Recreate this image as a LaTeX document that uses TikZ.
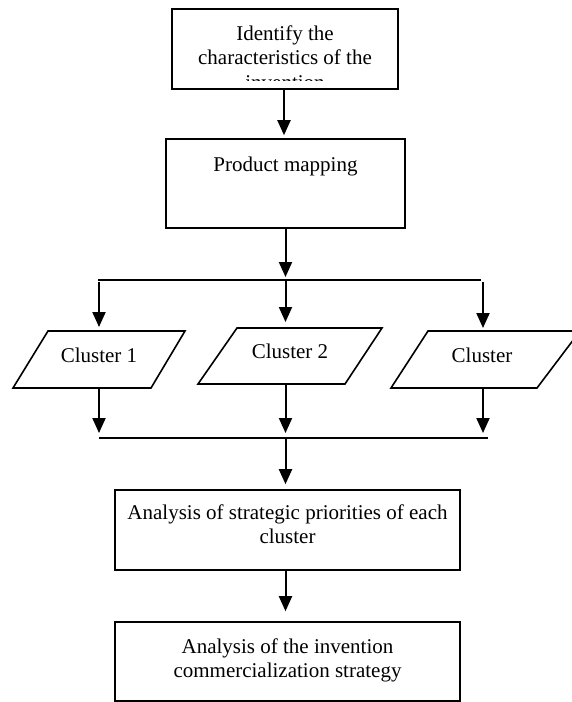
\documentclass[tikz,border=0pt]{standalone}
\usepackage{fontspec}
\setmainfont{Liberation Serif}
\usetikzlibrary{arrows.meta}
\begin{document}
\begin{tikzpicture}[x=1pt,y=-1pt,
  box/.style={draw, line width=1.6pt, inner sep=0pt},
  lbl/.style={font=\fontsize{21}{25}\selectfont, inner sep=0pt, anchor=base},
  flow/.style={line width=2pt, -{Triangle[length=15pt,width=13pt]}},
  rail/.style={line width=1.3pt},
  para/.style={draw, line width=1.6pt, line join=miter}]
\useasboundingbox (0,0) rectangle (572,702);

% --- top box (third line is cut off by the box interior) ---
\node[box, minimum width=226pt, minimum height=80pt] (idn) at (285,49) {};
\node[lbl] (idn1) at (285,40) {Identify the};
\node[lbl] (idn2) at (285,64) {characteristics of the};
\begin{scope}
  \clip (172,9) rectangle (398,80.5);
  \node[lbl] (idn3) at (285,89) {invention};
\end{scope}

% --- product mapping ---
\node[box, minimum width=239pt, minimum height=89pt] (pm) at (285.5,183.5) {};
\node[lbl] (pmt) at (285.5,171) {Product mapping};

% --- split rail ---
\coordinate (r1l) at (98,280);
\coordinate (r1m) at (285.5,280);
\coordinate (r1r) at (481,280);
\draw[rail] (r1l) -- (r1r);

% --- clusters (parallelograms) ---
\draw[para] (48,331) -- (185,331) -- (151,388) -- (13,388) -- cycle;
\draw[para] (237,328) -- (382,328) -- (345,384) -- (198,384) -- cycle;
\draw[para] (428,331) -- (580,331) -- (537,388) -- (391,388) -- cycle;
\node[lbl] (c1) at (99,362) {Cluster 1};
\node[lbl] (c2) at (290,358) {Cluster 2};
\node[lbl] (c3) at (482,362) {Cluster};
\coordinate (c1t) at (99,331);    \coordinate (c1b) at (99,388);
\coordinate (c2t) at (285.5,328); \coordinate (c2b) at (285.5,384);
\coordinate (c3t) at (483,331);   \coordinate (c3b) at (483,388);

% --- merge rail ---
\coordinate (r2l) at (99,438);
\coordinate (r2m) at (285.5,438);
\coordinate (r2r) at (488,438);
\draw[rail] (r2l) -- (r2r);

% --- analysis boxes ---
\node[box, minimum width=345pt, minimum height=80pt] (a1) at (287.5,530) {};
\node[lbl] (a1a) at (287.5,519) {Analysis of strategic priorities of each};
\node[lbl] (a1b) at (287.5,543) {cluster};
\node[box, minimum width=345pt, minimum height=79pt] (a2) at (287.5,661.5) {};
\node[lbl] (a2a) at (287.5,653) {Analysis of the invention};
\node[lbl] (a2b) at (287.5,677) {commercialization strategy};

% --- connectors ---
\draw[flow] (idn.south -| 284,0) -- ([yshift=3pt]pm.north -| 284,0);
\draw[flow] (pm.south -| r1m) -- ([yshift=3pt]r1m);
\draw[flow] (r1m) -- ([yshift=6pt]c2t);
\draw[flow] ([yshift=-2pt]r1l -| c1t) -- ([yshift=4pt]c1t);
\draw[flow] ([yshift=-2pt]r1r -| c3t) -- ([yshift=3pt]c3t);
\draw[flow] (c1b) -- ([yshift=5pt]r2l);
\draw[flow] (c2b) -- ([yshift=5pt]r2m);
\draw[flow] (c3b) -- ([yshift=5pt]r2r -| c3b);
\draw[flow] (r2m) -- ([yshift=5pt]a1.north -| r2m);
\draw[flow] (a1.south -| r2m) -- ([yshift=10pt]a2.north -| r2m);
\end{tikzpicture}
\end{document}
